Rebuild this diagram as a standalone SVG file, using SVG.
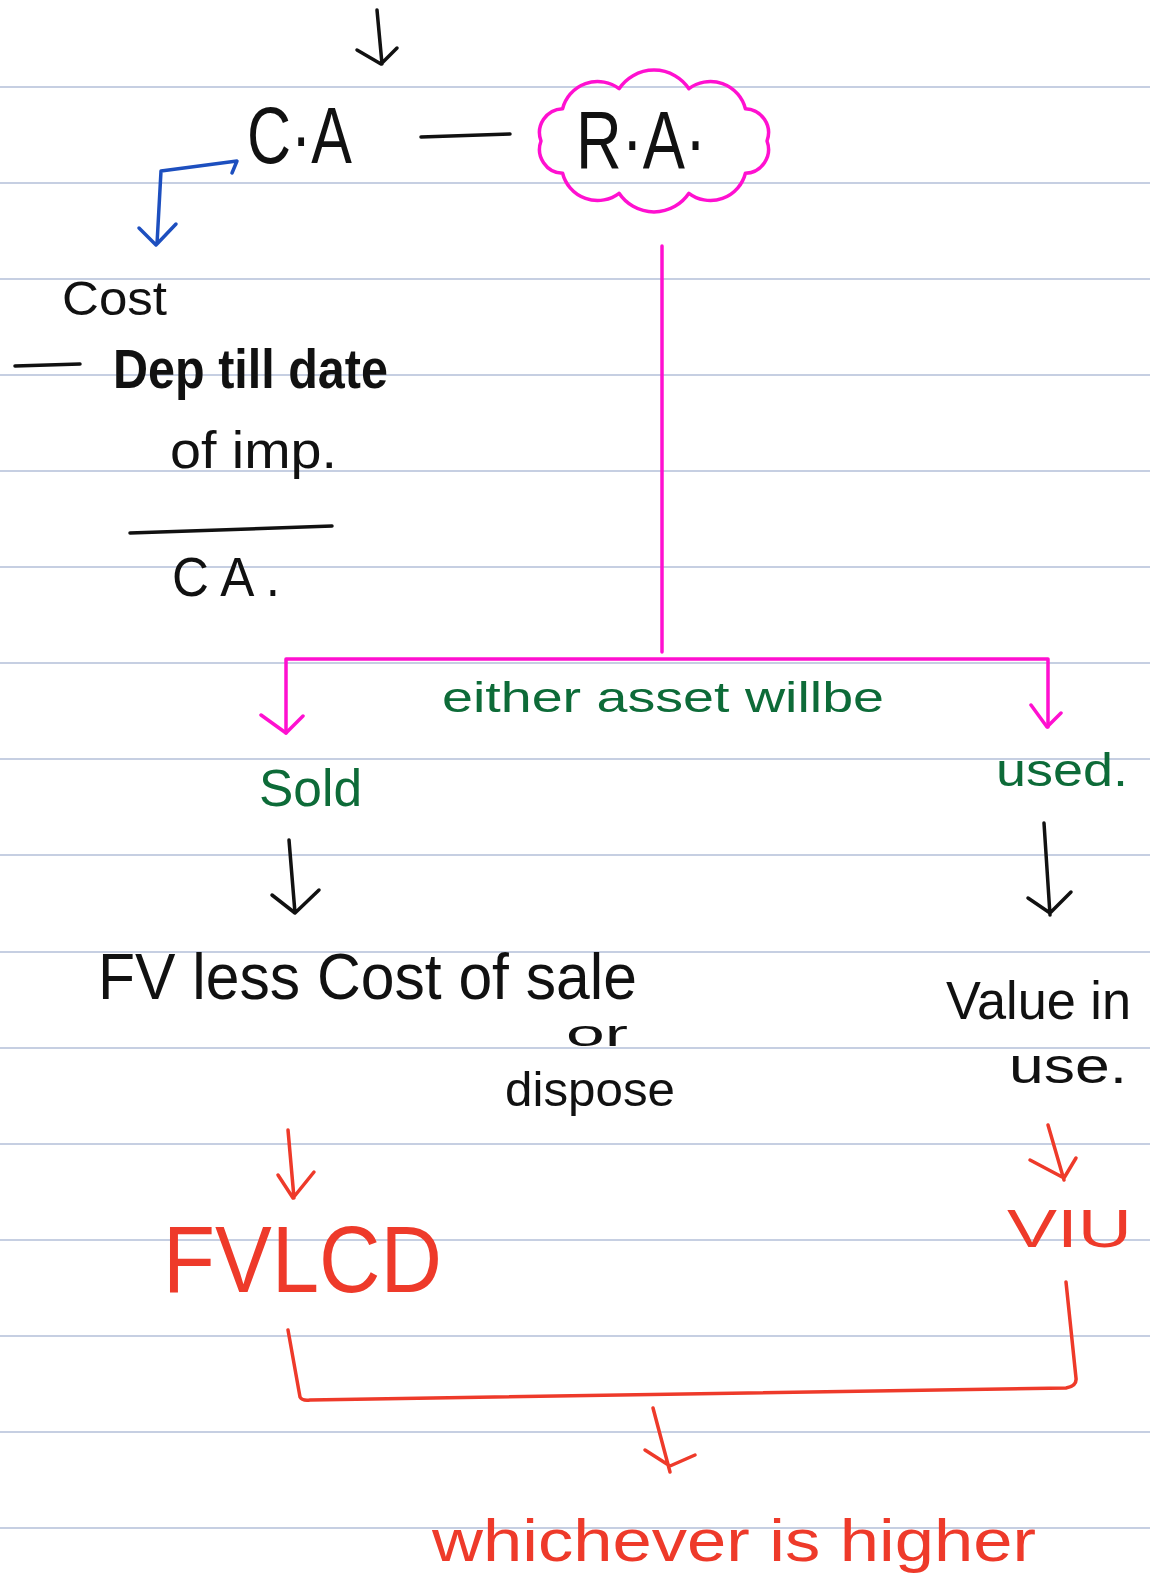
<svg xmlns="http://www.w3.org/2000/svg" width="1150" height="1590" viewBox="0 0 1150 1590">
<style>
.rule{stroke:#b3bfd9;stroke-width:1.5}
.pen{fill:none;stroke-linecap:round;stroke-linejoin:round;stroke-width:3.5}
.blk{stroke:#111}
.mag{stroke:#ff10d0}
.blu{stroke:#1d4fbf}
.red{stroke:#ee3a2a}
text{font-family:"Liberation Sans","DejaVu Sans",sans-serif}
.tb{fill:#111}
.tg{fill:#0d6b38}
.tr{fill:#ee3a2a}
</style>
<rect width="1150" height="1590" fill="#fff"/>
<g id="ruled-lines">
<line class="rule" x1="0" y1="87" x2="1150" y2="87"/>
<line class="rule" x1="0" y1="183" x2="1150" y2="183"/>
<line class="rule" x1="0" y1="279" x2="1150" y2="279"/>
<line class="rule" x1="0" y1="375" x2="1150" y2="375"/>
<line class="rule" x1="0" y1="471" x2="1150" y2="471"/>
<line class="rule" x1="0" y1="567" x2="1150" y2="567"/>
<line class="rule" x1="0" y1="663" x2="1150" y2="663"/>
<line class="rule" x1="0" y1="759" x2="1150" y2="759"/>
<line class="rule" x1="0" y1="855" x2="1150" y2="855"/>
<line class="rule" x1="0" y1="952" x2="1150" y2="952"/>
<line class="rule" x1="0" y1="1048" x2="1150" y2="1048"/>
<line class="rule" x1="0" y1="1144" x2="1150" y2="1144"/>
<line class="rule" x1="0" y1="1240" x2="1150" y2="1240"/>
<line class="rule" x1="0" y1="1336" x2="1150" y2="1336"/>
<line class="rule" x1="0" y1="1432" x2="1150" y2="1432"/>
<line class="rule" x1="0" y1="1528" x2="1150" y2="1528"/>
</g>

<g id="connectors">
<!-- top arrow -->
<path class="pen blk" d="M377,10 L382,64 M357,50 L381,64 L397,48"/>
<!-- CA to RA dash -->
<path class="pen blk" d="M421,137 L510,134"/>
<!-- blue arrow -->
<path class="pen blu" d="M232,173 L237,161 L161,171 L157,244 M139,228 L156,245 L176,224"/>
<!-- RA down and split -->
<path class="pen mag" d="M662,246 L662,652"/>
<path class="pen mag" d="M286,733 L286,659 L1048,659 L1048,727"/>
<path class="pen mag" d="M261,715 L286,733 L303,716 M1031,705 L1047,727 L1061,713"/>
<!-- black arrows -->
<path class="pen blk" d="M289,840 L295,913 M272,895 L295,913 L319,890"/>
<path class="pen blk" d="M1044,823 L1050,915 M1028,898 L1050,913 L1071,892"/>
<!-- red arrows -->
<path class="pen red" d="M288,1130 L294,1198 M278,1175 L293,1198 L314,1172"/>
<path class="pen red" d="M1048,1125 L1064,1180 M1030,1160 L1064,1178 L1076,1158"/>
<!-- red bracket -->
<path class="pen red" d="M288,1330 L300,1397 Q302,1401 310,1400 L1066,1388 Q1077,1386 1076,1378 L1066,1282"/>
<path class="pen red" d="M653,1408 L670,1472 M645,1450 L670,1466 L695,1455"/>
<!-- fraction line and dash -->
<path class="pen blk" d="M130,533 L332,526"/>
<path class="pen blk" d="M15,366 L80,364"/>
</g>

<g id="node-ca">
<text class="tb" x="247" y="163" font-size="80" textLength="105" lengthAdjust="spacingAndGlyphs">C·A</text>
</g>
<g id="node-ra">
<path class="pen mag" d="M767,141 A24,24 0 0 1 745.4,173.3 A36,36 0 0 1 688.9,193.3 A42,42 0 0 1 619.1,193.3 A36,36 0 0 1 562.6,173.3 A24,24 0 0 1 541,141 A24,24 0 0 1 562.6,108.7 A36,36 0 0 1 619.1,88.7 A42,42 0 0 1 688.9,88.7 A36,36 0 0 1 745.4,108.7 A24,24 0 0 1 767,141 Z"/>
<text class="tb" x="576" y="168" font-size="82" textLength="130" lengthAdjust="spacingAndGlyphs">R·A·</text>
</g>
<g id="node-ca-formula">
<text class="tb" x="62" y="315" font-size="48" textLength="105" lengthAdjust="spacingAndGlyphs">Cost</text>
<text class="tb" x="113" y="388" font-size="56" font-weight="bold" textLength="275" lengthAdjust="spacingAndGlyphs">Dep till date</text>
<text class="tb" x="170" y="468" font-size="52" textLength="167" lengthAdjust="spacingAndGlyphs">of imp.</text>
<text class="tb" x="172" y="596" font-size="56" textLength="108" lengthAdjust="spacingAndGlyphs">C A .</text>
</g>
<g id="label-either">
<text class="tg" x="442" y="712" font-size="42" textLength="442" lengthAdjust="spacingAndGlyphs">either asset willbe</text>
</g>
<g id="node-sold">
<text class="tg" x="259" y="806" font-size="52" textLength="103" lengthAdjust="spacingAndGlyphs">Sold</text>
</g>
<g id="node-used">
<text class="tg" x="996" y="786" font-size="46" textLength="132" lengthAdjust="spacingAndGlyphs">used.</text>
</g>
<g id="node-fvlcs">
<text class="tb" x="98" y="999" font-size="64" textLength="539" lengthAdjust="spacingAndGlyphs">FV less Cost of sale</text>
<text class="tb" x="566" y="1046" font-size="36" textLength="62" lengthAdjust="spacingAndGlyphs">or</text>
<text class="tb" x="505" y="1106" font-size="48" textLength="170" lengthAdjust="spacingAndGlyphs">dispose</text>
</g>
<g id="node-viu-text">
<text class="tb" x="946" y="1019" font-size="54" textLength="185" lengthAdjust="spacingAndGlyphs">Value in</text>
<text class="tb" x="1009" y="1083" font-size="50" textLength="118" lengthAdjust="spacingAndGlyphs">use.</text>
</g>
<g id="node-fvlcd">
<text class="tr" x="163" y="1292" font-size="94" textLength="279" lengthAdjust="spacingAndGlyphs">FVLCD</text>
</g>
<g id="node-viu">
<text class="tr" x="1007" y="1247" font-size="54" textLength="125" lengthAdjust="spacingAndGlyphs">VIU</text>
</g>
<g id="node-higher">
<text class="tr" x="432" y="1561" font-size="60" textLength="604" lengthAdjust="spacingAndGlyphs">whichever is higher</text>
</g>
</svg>
